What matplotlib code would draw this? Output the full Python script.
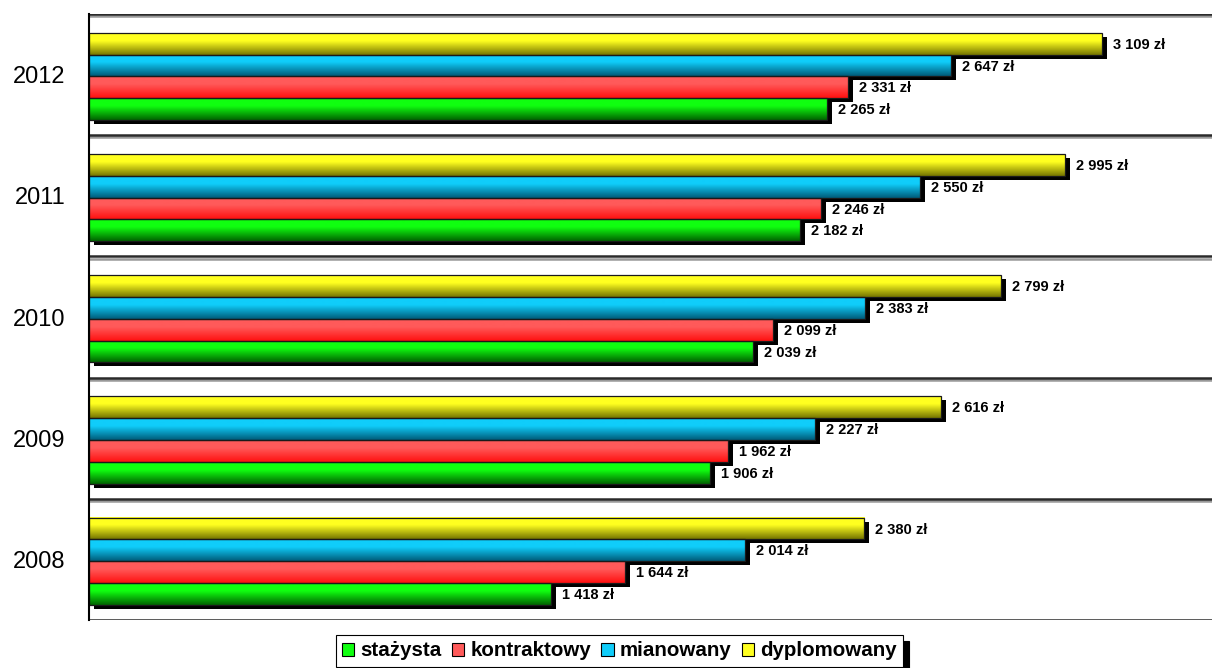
import matplotlib
matplotlib.use("Agg")
import matplotlib.pyplot as plt
import numpy as np
from matplotlib import patheffects as pe
from matplotlib.colors import LinearSegmentedColormap
from matplotlib.patches import Rectangle
from matplotlib.transforms import offset_copy

# dane -----------------------------------------------
lata = ["2008", "2009", "2010", "2011", "2012"]
serie = ["stażysta", "kontraktowy", "mianowany", "dyplomowany"]
stazysta = [1418, 1906, 2039, 2182, 2265]
kontraktowy = [1644, 1962, 2099, 2246, 2331]
mianowany = [2014, 2227, 2383, 2550, 2647]
dyplomowany = [2380, 2616, 2799, 2995, 3109]
wartosci = [stazysta, kontraktowy, mianowany, dyplomowany]

# kolory gradientu (gora, dol)
kolory = [("#10ff10", "#006400"),
          ("#ff5a5a", "#ff1010"),
          ("#10cdfa", "#005c7a"),
          ("#ffff20", "#767600")]

plt.rcParams['font.family'] = ['Liberation Sans', 'DejaVu Sans']

fig = plt.figure(figsize=(12.12, 6.68), dpi=100)
ax = fig.add_axes([89 / 1212, 1 - 620 / 668, 1 - 89 / 1212, (620 - 14) / 668])

h = 0.18
start = 0.125
y = np.arange(len(lata))

cien = offset_copy(ax.transData, fig=fig, x=5, y=-4, units='dots')

# cienie pod wszystkimi slupkami
for i, vals in enumerate(wartosci):
    ax.barh(y + start + i * h, vals, height=h, align='edge', color='black',
            transform=cien, zorder=1)

grad = np.linspace(0, 1, 64).reshape(-1, 1)
for i, vals in enumerate(wartosci):
    cmap = LinearSegmentedColormap.from_list(
        "g%d" % i, [(0, kolory[i][0]), (0.35, kolory[i][0]), (1, kolory[i][1])])
    for j, v in enumerate(vals):
        y0 = j + start + i * h
        ax.imshow(grad, cmap=cmap, extent=[0, v, y0, y0 + h], aspect='auto',
                  origin='upper', zorder=2, interpolation='bilinear')
    ax.barh(y + start + i * h, vals, height=h, align='edge', facecolor='none',
            edgecolor='#1a1a1a', linewidth=0.9, zorder=3)
    for j, v in enumerate(vals):
        etyk = f"{v:,}".replace(",", " ") + " zł"
        ax.annotate(etyk, (v, j + start + (i + 0.45) * h), xytext=(11, 0),
                    textcoords='offset pixels', va='center', ha='left',
                    fontsize=10.5, fontweight='bold', zorder=4)

# linie siatki z cieniem
for k in range(len(lata) + 1):
    ax.axhline(k, color='#2a2a2a', linewidth=1.8, zorder=5,
               path_effects=[pe.SimpleLineShadow(offset=(0, -1.6), shadow_color='#999999', alpha=1),
                             pe.Normal()])

ax.set_xlim(0, 3447)
ax.set_ylim(0, len(lata))
ax.set_xticks([])
ax.set_yticks(y + 0.5)
ax.set_yticklabels(lata, fontsize=17)
ax.tick_params(axis='y', length=0, pad=17)
for s in ['top', 'right', 'bottom']:
    ax.spines[s].set_visible(False)
ax.spines['left'].set_linewidth(1.5)
ax.spines['left'].set_zorder(6)

uchwyty = [Rectangle((0, 0), 1, 1, facecolor=kolory[i][0], edgecolor='black', linewidth=0.8)
           for i in range(len(serie))]
leg = fig.legend(uchwyty, serie, loc='upper center', bbox_to_anchor=(0.511, 0.049),
                 ncol=4, frameon=True, fancybox=False, edgecolor='black',
                 prop={'weight': 'bold', 'size': 14.8}, handlelength=0.6,
                 handleheight=0.6, handletextpad=0.3, columnspacing=0.5,
                 borderpad=0.3, borderaxespad=0,
                 shadow={'color': 'black', 'alpha': 1, 'ox': 4, 'oy': -4})
leg.get_frame().set_linewidth(0.8)

fig.savefig("out.png", dpi=100)
